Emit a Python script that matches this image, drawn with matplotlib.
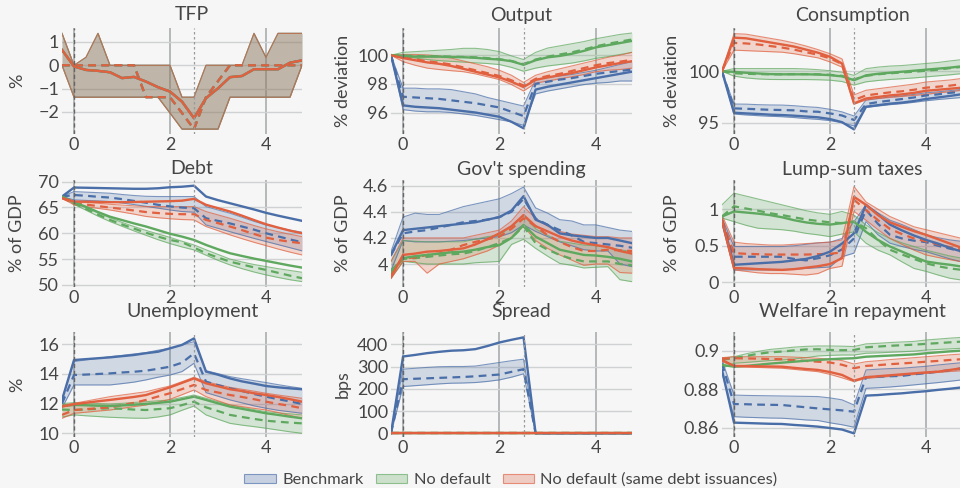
import matplotlib
matplotlib.use("Agg")
import matplotlib.pyplot as plt
from matplotlib.patches import Patch
from matplotlib.colors import to_rgba

plt.rcParams['font.family'] = ['Lato', 'DejaVu Sans']

# ---------------------------------------------------------------- data
years = [-0.25, 0.0, 0.25, 0.5, 0.75, 1.0, 1.25, 1.5, 1.75, 2.0, 2.25,
         2.5, 2.75, 3.0, 3.25, 3.5, 3.75, 4.0, 4.25, 4.5, 4.75]

series_names = ["Benchmark", "No default", "No default (same debt issuances)"]

# TFP (same shock path in all three economies)
tfp_mean = [0.66, -0.05, -0.20, -0.24, -0.30, -0.55, -0.50, -0.70, -0.94, -1.13, -1.56,
            -2.27, -1.41, -0.99, -0.51, -0.46, -0.17, -0.17, -0.17, 0.11, 0.21]
tfp_med = [0, 0, 0, 0, 0, 0, 0, -1.37, -1.37, -1.37, -2.05,
           -2.74, -1.37, -0.68, 0, 0, 0, 0, 0, 0, 0]
tfp_lo = [0, -1.37, -1.37, -1.37, -1.37, -1.37, -1.37, -1.37, -1.37, -2.05, -2.74,
          -2.74, -2.74, -2.74, -1.37, -1.37, -1.37, -1.37, -1.37, -1.37, 0]
tfp_hi = [1.37, 0, 0.34, 1.37, 0, 0, 0, 0, 0, 0, -1.37,
          -1.37, 0, 0, 0, 0, 1.37, 0.34, 1.37, 1.37, 1.37]

# Output
out_b_mean = [100, 96.5, 96.4, 96.35, 96.3, 96.2, 96.1, 96.0, 95.85, 95.7, 95.35,
              94.9, 97.6, 97.8, 97.95, 98.1, 98.25, 98.4, 98.55, 98.7, 98.85]
out_b_med = [100, 97.1, 97.05, 97.0, 96.95, 96.85, 96.75, 96.65, 96.5, 96.35, 96.05,
             95.75, 98.0, 98.15, 98.3, 98.4, 98.55, 98.7, 98.8, 98.9, 99.0]
out_b_hi = [100, 97.7, 97.7, 97.65, 97.65, 97.6, 97.45, 97.3, 97.05, 96.85, 96.65,
            96.45, 98.3, 98.45, 98.55, 98.65, 98.8, 98.95, 99.15, 99.35, 99.55]
out_b_lo = [100, 96.2, 96.1, 96.05, 96.05, 96.0, 95.9, 95.8, 95.65, 95.5, 95.35,
            95.1, 97.3, 97.5, 97.65, 97.8, 97.95, 98.05, 98.1, 98.2, 98.2]
out_n_mean = [100, 99.95, 99.9, 99.9, 99.9, 99.87, 99.86, 99.82, 99.75, 99.7, 99.58,
              99.33, 99.65, 99.85, 99.95, 100.1, 100.3, 100.55, 100.7, 100.85, 101.0]
out_n_med = [100, 99.98, 99.95, 99.93, 99.92, 99.9, 99.88, 99.85, 99.8, 99.72, 99.6,
             99.38, 99.7, 99.9, 100.05, 100.2, 100.4, 100.62, 100.8, 100.95, 101.1]
out_n_hi = [100, 100.2, 100.25, 100.3, 100.35, 100.4, 100.48, 100.48, 100.4, 100.25, 99.95,
            99.7, 100.2, 100.5, 100.65, 100.8, 100.95, 101.15, 101.3, 101.45, 101.55]
out_n_lo = [100, 99.92, 99.8, 99.7, 99.62, 99.57, 99.52, 99.47, 99.42, 99.35, 99.15,
            98.88, 99.1, 99.25, 99.35, 99.45, 99.6, 99.78, 99.9, 100.05, 100.2]
out_s_mean = [100, 99.8, 99.65, 99.5, 99.4, 99.25, 99.05, 98.85, 98.65, 98.45, 98.15,
              97.78, 98.28, 98.45, 98.6, 98.75, 98.95, 99.15, 99.3, 99.45, 99.58]
out_s_med = [100, 99.86, 99.72, 99.58, 99.48, 99.35, 99.15, 98.95, 98.75, 98.55, 98.25,
             97.88, 98.35, 98.55, 98.7, 98.9, 99.1, 99.3, 99.45, 99.55, 99.68]
out_s_hi = [100, 100.05, 100.05, 100.02, 99.95, 99.8, 99.6, 99.4, 99.2, 98.95, 98.6,
            98.1, 98.6, 98.85, 99.05, 99.25, 99.45, 99.65, 99.85, 100.0, 100.2]
out_s_lo = [100, 99.55, 99.3, 99.1, 99.0, 98.92, 98.85, 98.7, 98.5, 98.3, 97.95,
            97.5, 98.05, 98.2, 98.35, 98.5, 98.65, 98.85, 98.95, 99.0, 99.1]

# Consumption
cons_b_mean = [100, 95.97, 95.9, 95.85, 95.78, 95.74, 95.68, 95.6, 95.52, 95.35, 95.05,
               94.35, 96.55, 96.7, 96.85, 96.95, 97.1, 97.3, 97.45, 97.6, 97.77]
cons_b_med = [100, 96.39, 96.35, 96.3, 96.25, 96.23, 96.2, 96.1, 96.06, 95.9, 95.7,
              95.26, 96.81, 97.0, 97.15, 97.3, 97.45, 97.65, 97.75, 97.9, 98.0]
cons_b_hi = [100, 96.81, 96.8, 96.75, 96.72, 96.71, 96.65, 96.55, 96.48, 96.3, 96.05,
             95.65, 97.19, 97.35, 97.5, 97.6, 97.75, 97.9, 98.0, 98.12, 98.23]
cons_b_lo = [100, 95.84, 95.75, 95.68, 95.62, 95.58, 95.5, 95.4, 95.32, 95.2, 95.0,
             94.68, 96.48, 96.62, 96.75, 96.85, 96.98, 97.13, 97.25, 97.35, 97.45]
cons_n_mean = [100, 99.94, 99.85, 99.78, 99.72, 99.7, 99.7, 99.7, 99.68, 99.62, 99.5,
               99.13, 99.6, 99.75, 99.85, 99.95, 100.05, 100.15, 100.25, 100.35, 100.48]
cons_n_med = [100, 99.8, 99.75, 99.72, 99.7, 99.7, 99.72, 99.72, 99.7, 99.65, 99.55,
              99.2, 99.55, 99.7, 99.8, 99.88, 99.95, 100.05, 100.15, 100.3, 100.42]
cons_n_hi = [100, 100.26, 100.26, 100.26, 100.26, 100.26, 100.26, 100.22, 100.15, 100.05, 99.9,
             99.6, 100.25, 100.4, 100.5, 100.55, 100.65, 100.75, 100.85, 101.0, 101.13]
cons_n_lo = [100, 99.52, 99.35, 99.25, 99.2, 99.19, 99.19, 99.19, 99.17, 99.13, 99.0,
             98.65, 98.97, 99.1, 99.2, 99.27, 99.35, 99.45, 99.55, 99.65, 99.77]
cons_s_mean = [100, 103.26, 103.2, 103.0, 102.8, 102.6, 102.4, 102.1, 101.8, 101.4, 100.75,
               96.87, 97.35, 97.5, 97.65, 97.75, 97.9, 98.1, 98.2, 98.3, 98.4]
cons_s_med = [100, 102.75, 102.7, 102.6, 102.45, 102.3, 102.1, 101.85, 101.6, 101.25, 100.7,
              97.2, 97.65, 97.8, 97.95, 98.05, 98.2, 98.4, 98.5, 98.6, 98.75]
cons_s_hi = [100, 103.65, 103.6, 103.4, 103.2, 103.0, 102.75, 102.45, 102.1, 101.7, 101.2,
             97.7, 98.15, 98.3, 98.45, 98.6, 98.75, 98.95, 99.05, 99.15, 99.3]
cons_s_lo = [100, 102.05, 102.0, 101.95, 101.9, 101.85, 101.7, 101.5, 101.3, 100.9, 100.4,
             96.8, 97.2, 97.35, 97.45, 97.55, 97.65, 97.75, 97.9, 98.0, 98.15]

# Debt
debt_b_mean = [67.1, 68.84, 68.8, 68.75, 68.7, 68.65, 68.6, 68.6, 68.7, 68.9, 69.0,
               69.2, 67.1, 66.4, 65.8, 65.2, 64.6, 63.95, 63.4, 62.9, 62.4]
debt_b_med = [67.1, 67.4, 67.25, 67.05, 66.9, 66.6, 66.25, 65.9, 65.5, 65.2, 64.97,
              64.84, 62.9, 62.4, 61.9, 61.3, 60.7, 60.0, 59.4, 58.8, 58.26]
debt_b_hi = [67.1, 68.06, 67.95, 67.85, 67.74, 67.5, 67.3, 67.15, 67.1, 67.1, 67.1,
             67.1, 65.16, 64.5, 63.87, 63.1, 62.3, 61.6, 61.1, 60.6, 60.2]
debt_b_lo = [67.1, 66.45, 66.35, 66.25, 66.13, 65.85, 65.55, 65.2, 64.85, 64.5, 64.2,
             64.07, 61.6, 60.95, 60.3, 59.65, 59.0, 58.4, 57.8, 57.2, 56.6]
debt_n_mean = [67.1, 66.0, 65.1, 64.1, 63.2, 62.55, 61.9, 61.3, 60.6, 59.9, 59.35,
               58.7, 57.74, 56.9, 56.13, 55.6, 55.1, 54.65, 54.2, 53.75, 53.35]
debt_n_med = [67.1, 65.8, 64.7, 63.6, 62.58, 61.7, 60.9, 60.1, 59.35, 58.7, 58.26,
              57.23, 56.13, 55.3, 54.5, 53.95, 53.4, 52.9, 52.35, 51.8, 51.3]
debt_n_hi = [67.1, 66.0, 64.95, 63.95, 63.0, 62.1, 61.3, 60.55, 59.85, 59.2, 58.45,
             57.74, 56.8, 55.9, 55.0, 54.45, 53.95, 53.55, 53.15, 52.8, 52.45]
debt_n_lo = [67.1, 65.6, 64.45, 63.3, 62.26, 61.35, 60.45, 59.6, 58.75, 58.0, 57.35,
             56.77, 55.75, 54.75, 53.87, 53.15, 52.5, 51.94, 51.45, 51.0, 50.65]
debt_s_mean = [66.8, 66.13, 66.1, 66.05, 66.0, 66.0, 66.05, 66.1, 66.15, 66.2, 66.3,
               66.65, 65.5, 64.85, 64.2, 63.4, 62.55, 61.74, 61.1, 60.5, 60.0]
debt_s_med = [66.8, 65.8, 65.55, 65.25, 64.97, 64.7, 64.4, 64.1, 63.9, 63.75, 63.68,
              63.68, 62.58, 61.95, 61.3, 60.6, 59.85, 59.16, 58.7, 58.35, 58.06]
debt_s_hi = [66.8, 66.13, 65.95, 65.8, 65.6, 65.45, 65.3, 65.16, 65.16, 65.16, 65.16,
             65.16, 64.2, 63.55, 62.9, 62.2, 61.5, 60.84, 60.3, 59.8, 59.35]
debt_s_lo = [66.8, 65.48, 65.15, 64.8, 64.5, 64.1, 63.7, 63.25, 63.0, 62.8, 62.65,
             62.58, 61.3, 60.5, 59.68, 58.95, 58.25, 57.6, 56.95, 56.35, 55.8]

# Government spending
gov_b_mean = [4.07, 4.26, 4.27, 4.28, 4.29, 4.30, 4.31, 4.32, 4.34, 4.36, 4.41,
              4.52, 4.34, 4.30, 4.235, 4.22, 4.21, 4.20, 4.20, 4.18, 4.16]
gov_b_med = [4.07, 4.235, 4.25, 4.26, 4.28, 4.30, 4.32, 4.33, 4.34, 4.36, 4.40,
             4.50, 4.35, 4.30, 4.26, 4.22, 4.17, 4.16, 4.15, 4.14, 4.125]
gov_b_hi = [4.095, 4.36, 4.39, 4.38, 4.38, 4.41, 4.44, 4.46, 4.48, 4.50, 4.54,
            4.59, 4.43, 4.39, 4.34, 4.33, 4.30, 4.30, 4.28, 4.26, 4.25]
gov_b_lo = [3.95, 4.18, 4.17, 4.17, 4.17, 4.175, 4.18, 4.19, 4.20, 4.21, 4.24,
            4.30, 4.25, 4.21, 4.17, 4.14, 4.11, 4.10, 4.10, 4.00, 3.98]
gov_n_mean = [3.94, 4.045, 4.06, 4.07, 4.08, 4.09, 4.095, 4.11, 4.13, 4.145, 4.20,
              4.30, 4.21, 4.16, 4.11, 4.09, 4.07, 4.065, 4.055, 4.04, 4.02]
gov_n_med = [3.95, 4.04, 4.045, 4.055, 4.065, 4.075, 4.08, 4.10, 4.13, 4.16, 4.20,
             4.29, 4.16, 4.11, 4.07, 4.04, 4.02, 4.02, 4.02, 4.00, 3.99]
gov_n_hi = [4.02, 4.18, 4.175, 4.17, 4.17, 4.17, 4.17, 4.19, 4.21, 4.22, 4.29,
            4.375, 4.27, 4.22, 4.175, 4.16, 4.145, 4.14, 4.13, 4.11, 4.095]
gov_n_lo = [3.89, 4.02, 4.01, 4.00, 4.00, 4.00, 4.00, 4.01, 4.015, 4.02, 4.15,
            4.19, 4.12, 4.06, 4.005, 3.99, 3.97, 3.975, 3.98, 3.88, 3.865]
gov_s_mean = [3.90, 4.07, 4.08, 4.095, 4.10, 4.11, 4.12, 4.15, 4.19, 4.235, 4.29,
              4.375, 4.29, 4.25, 4.21, 4.18, 4.16, 4.145, 4.13, 4.10, 4.08]
gov_s_med = [3.92, 4.045, 4.05, 4.07, 4.08, 4.11, 4.145, 4.17, 4.19, 4.21, 4.27,
             4.35, 4.29, 4.22, 4.17, 4.13, 4.10, 4.10, 4.11, 4.105, 4.10]
gov_s_hi = [4.02, 4.20, 4.20, 4.20, 4.20, 4.20, 4.20, 4.22, 4.24, 4.26, 4.33,
            4.44, 4.35, 4.29, 4.25, 4.23, 4.22, 4.21, 4.21, 4.20, 4.20]
gov_s_lo = [3.89, 4.02, 4.02, 3.93, 4.00, 4.02, 4.04, 4.07, 4.10, 4.145, 4.20,
            4.29, 4.18, 4.12, 4.07, 4.03, 3.99, 4.00, 4.00, 3.935, 3.93]

# Lump-sum taxes
tax_b_mean = [0.85, 0.24, 0.25, 0.26, 0.27, 0.28, 0.30, 0.32, 0.36, 0.42, 0.53,
              0.67, 1.06, 0.93, 0.79, 0.71, 0.64, 0.58, 0.53, 0.47, 0.42]
tax_b_med = [0.85, 0.35, 0.35, 0.35, 0.35, 0.35, 0.32, 0.30, 0.33, 0.37, 0.45,
             0.60, 0.99, 0.80, 0.65, 0.60, 0.57, 0.55, 0.50, 0.46, 0.42]
tax_b_hi = [0.88, 0.49, 0.49, 0.49, 0.49, 0.49, 0.50, 0.52, 0.54, 0.55, 0.60,
            0.83, 1.06, 0.95, 0.85, 0.79, 0.72, 0.65, 0.61, 0.58, 0.56]
tax_b_lo = [0.80, 0.17, 0.17, 0.17, 0.17, 0.17, 0.18, 0.19, 0.20, 0.21, 0.35,
            0.40, 0.83, 0.65, 0.535, 0.49, 0.45, 0.42, 0.37, 0.32, 0.28]
tax_n_mean = [0.90, 0.97, 0.955, 0.94, 0.92, 0.89, 0.85, 0.82, 0.80, 0.79, 0.81,
              0.83, 0.69, 0.58, 0.49, 0.42, 0.35, 0.285, 0.26, 0.24, 0.215]
tax_n_med = [0.90, 1.04, 1.01, 0.98, 0.945, 0.92, 0.89, 0.86, 0.84, 0.82, 0.81,
             0.83, 0.74, 0.58, 0.445, 0.38, 0.32, 0.26, 0.22, 0.19, 0.17]
tax_n_hi = [1.06, 1.22, 1.18, 1.14, 1.10, 1.06, 1.02, 0.98, 0.95, 0.93, 0.97,
            0.92, 0.785, 0.68, 0.60, 0.54, 0.49, 0.44, 0.40, 0.36, 0.33]
tax_n_lo = [0.88, 0.83, 0.78, 0.74, 0.73, 0.72, 0.70, 0.67, 0.65, 0.625, 0.66,
            0.69, 0.535, 0.44, 0.375, 0.28, 0.19, 0.15, 0.10, 0.055, 0.03]
tax_s_mean = [0.85, 0.195, 0.19, 0.18, 0.175, 0.17, 0.18, 0.20, 0.22, 0.25, 0.33,
              1.17, 1.06, 0.92, 0.82, 0.76, 0.70, 0.65, 0.59, 0.53, 0.47]
tax_s_med = [0.85, 0.40, 0.39, 0.385, 0.38, 0.38, 0.38, 0.38, 0.385, 0.39, 0.41,
             1.13, 0.99, 0.85, 0.73, 0.66, 0.60, 0.56, 0.52, 0.48, 0.445]
tax_s_hi = [0.92, 0.55, 0.53, 0.52, 0.51, 0.51, 0.52, 0.53, 0.54, 0.55, 0.58,
            1.31, 1.10, 1.0, 0.90, 0.83, 0.76, 0.72, 0.68, 0.64, 0.60]
tax_s_lo = [0.80, 0.17, 0.15, 0.13, 0.12, 0.12, 0.11, 0.10, 0.12, 0.19, 0.22,
            0.97, 0.85, 0.72, 0.60, 0.52, 0.44, 0.375, 0.34, 0.31, 0.28]

# Unemployment
unemp_b_mean = [12.25, 14.94, 15.0, 15.06, 15.12, 15.2, 15.28, 15.4, 15.5, 15.73, 15.96,
                16.4, 14.16, 13.95, 13.7, 13.5, 13.35, 13.19, 13.1, 13.03, 12.97]
unemp_b_med = [12.0, 13.93, 13.96, 14.0, 14.04, 14.1, 14.15, 14.22, 14.35, 14.49, 14.76,
               15.39, 13.48, 13.25, 13.03, 12.85, 12.65, 12.47, 12.3, 12.15, 11.98]
unemp_b_hi = [12.3, 14.83, 14.95, 15.05, 15.17, 15.25, 15.35, 15.44, 15.6, 15.73, 15.95,
              16.18, 14.22, 14.02, 13.82, 13.68, 13.55, 13.42, 13.28, 13.15, 13.03]
unemp_b_lo = [11.7, 13.26, 13.26, 13.26, 13.26, 13.35, 13.45, 13.6, 13.78, 13.93, 14.16,
              14.72, 12.74, 12.5, 12.25, 12.05, 11.85, 11.69, 11.55, 11.45, 11.35]
unemp_n_mean = [11.84, 11.91, 11.89, 11.86, 11.84, 11.88, 11.93, 11.98, 12.05, 12.13, 12.3,
                12.47, 12.25, 12.02, 11.8, 11.65, 11.5, 11.35, 11.24, 11.12, 11.01]
unemp_n_med = [11.6, 11.57, 11.61, 11.65, 11.69, 11.65, 11.6, 11.57, 11.63, 11.69, 11.9,
               12.13, 11.75, 11.5, 11.24, 11.1, 10.97, 10.85, 10.78, 10.72, 10.67]
unemp_n_hi = [12.0, 12.07, 12.04, 12.01, 11.98, 12.02, 12.08, 12.13, 12.19, 12.25, 12.42,
              12.58, 12.36, 12.13, 11.91, 11.75, 11.6, 11.46, 11.38, 11.31, 11.24]
unemp_n_lo = [11.1, 11.24, 11.18, 11.13, 11.08, 11.05, 11.02, 11.01, 11.1, 11.24, 11.55,
              11.84, 11.24, 10.95, 10.67, 10.55, 10.45, 10.34, 10.22, 10.1, 10.0]
unemp_s_mean = [11.8, 11.96, 12.06, 12.16, 12.25, 12.35, 12.45, 12.58, 12.84, 13.1, 13.4,
                13.7, 13.37, 13.17, 12.97, 12.85, 12.7, 12.58, 12.45, 12.3, 12.13]
unemp_s_med = [11.24, 11.57, 11.63, 11.69, 11.75, 11.9, 12.05, 12.25, 12.48, 12.7, 12.98,
               13.26, 12.92, 12.75, 12.58, 12.45, 12.3, 12.13, 11.98, 11.85, 11.69]
unemp_s_hi = [11.9, 12.02, 12.17, 12.32, 12.47, 12.58, 12.69, 12.8, 13.0, 13.19, 13.48,
              13.78, 13.48, 13.29, 13.1, 12.97, 12.84, 12.7, 12.58, 12.47, 12.36]
unemp_s_lo = [11.01, 11.35, 11.42, 11.5, 11.57, 11.68, 11.8, 11.91, 12.1, 12.29, 12.6,
              12.92, 12.47, 12.19, 11.91, 11.8, 11.68, 11.57, 11.4, 11.2, 11.01]

# Spread (bps); the no-default economies never pay a spread
spread_b_mean = [0, 345, 352, 360, 366, 371, 373, 378, 392, 408, 420,
                 431, 0, 0, 0, 0, 0, 0, 0, 0, 0]
spread_b_med = [0, 243, 245, 247, 249, 251, 253, 256, 260, 264, 276,
                288, 0, 0, 0, 0, 0, 0, 0, 0, 0]
spread_b_hi = [0, 288, 292, 296, 299, 300, 300, 302, 310, 318, 326,
               333, 0, 0, 0, 0, 0, 0, 0, 0, 0]
spread_b_lo = [0, 210, 214, 218, 222, 225, 226, 228, 233, 240, 252,
               267, 0, 0, 0, 0, 0, 0, 0, 0, 0]
spread_zero = [0, 0, 0, 0, 0, 0, 0, 0, 0, 0, 0,
               0, 0, 0, 0, 0, 0, 0, 0, 0, 0]

# Welfare in repayment
welf_b_mean = [0.890, 0.8626, 0.8624, 0.8622, 0.862, 0.8619, 0.8614, 0.861, 0.8605, 0.8598, 0.859,
               0.857, 0.8767, 0.877, 0.8775, 0.8779, 0.8785, 0.879, 0.8797, 0.8803, 0.881]
welf_b_med = [0.8935, 0.8723, 0.8722, 0.872, 0.8719, 0.8718, 0.8712, 0.8706, 0.870, 0.8695, 0.869,
              0.8683, 0.8863, 0.8866, 0.8868, 0.887, 0.8878, 0.8885, 0.8892, 0.890, 0.891]
welf_b_hi = [0.8953, 0.877, 0.8768, 0.8767, 0.8766, 0.8765, 0.8764, 0.8763, 0.8762, 0.8755, 0.8745,
             0.8718, 0.8901, 0.8905, 0.8908, 0.891, 0.8915, 0.892, 0.8927, 0.8933, 0.8939]
welf_b_lo = [0.8885, 0.8657, 0.8654, 0.8652, 0.865, 0.8649, 0.8645, 0.864, 0.8637, 0.8625, 0.8615,
             0.8602, 0.8805, 0.8808, 0.8812, 0.8817, 0.8823, 0.8829, 0.8835, 0.8842, 0.8849]
welf_n_mean = [0.8927, 0.8918, 0.8922, 0.8928, 0.8934, 0.8939, 0.8944, 0.8949, 0.8953, 0.8957, 0.896,
               0.8962, 0.897, 0.8973, 0.8976, 0.8979, 0.8982, 0.8988, 0.8993, 0.8998, 0.9002]
welf_n_med = [0.8955, 0.8962, 0.8974, 0.8985, 0.8993, 0.8997, 0.9003, 0.9008, 0.9009, 0.9005, 0.9004,
              0.9005, 0.9019, 0.9023, 0.9027, 0.903, 0.9033, 0.9037, 0.9041, 0.9045, 0.9049]
welf_n_hi = [0.8962, 0.897, 0.8985, 0.8998, 0.9008, 0.9014, 0.902, 0.9024, 0.9026, 0.9026, 0.9025,
             0.9023, 0.9037, 0.904, 0.9044, 0.9047, 0.905, 0.9057, 0.9062, 0.9067, 0.9071]
welf_n_lo = [0.891, 0.8936, 0.894, 0.8945, 0.895, 0.8953, 0.8958, 0.8965, 0.8974, 0.8977, 0.8979,
             0.8979, 0.8988, 0.899, 0.8993, 0.8996, 0.8999, 0.9005, 0.9008, 0.9011, 0.9014]
welf_s_mean = [0.8953, 0.8922, 0.8921, 0.892, 0.8919, 0.8918, 0.8912, 0.8906, 0.8901, 0.889, 0.8875,
               0.8845, 0.8863, 0.8868, 0.8873, 0.8878, 0.8883, 0.8888, 0.8892, 0.8901, 0.891]
welf_s_med = [0.896, 0.8962, 0.8961, 0.896, 0.8958, 0.8957, 0.8952, 0.8948, 0.8944, 0.894, 0.8928,
              0.891, 0.8922, 0.8926, 0.8931, 0.8935, 0.8939, 0.8944, 0.8948, 0.8953, 0.8957]
welf_s_hi = [0.8965, 0.897, 0.897, 0.897, 0.897, 0.897, 0.8968, 0.8965, 0.8962, 0.8957, 0.895,
             0.8932, 0.8944, 0.8949, 0.8955, 0.896, 0.8965, 0.897, 0.8975, 0.898, 0.8984]
welf_s_lo = [0.8945, 0.8918, 0.8916, 0.8914, 0.8912, 0.891, 0.8904, 0.8898, 0.8892, 0.8878, 0.886,
             0.884, 0.8857, 0.8862, 0.8867, 0.8872, 0.8877, 0.8883, 0.8888, 0.8893, 0.8897]

# ---------------------------------------------------------------- style
BG = '#f6f6f6'
TXT = '#454545'
HGRID = '#cfd2d2'
VGRID = '#b4b8b8'
COLORS = ['#4a6ea8', '#5fa85f', '#e0603f']   # benchmark, no default, same issuances

W, H = 960, 488
fig = plt.figure(figsize=(W / 100, H / 100), dpi=100, facecolor=BG)

COLS = [(62, 302), (391, 632), (722, 962)]
ROWS = [(28, 134), (180, 287), (332, 437)]
TITLE_Y = [15, 169, 312]
YLABEL_DX = [-45, -48, -50]


def make_axes(r, c):
    (l, rr), (t, b) = COLS[c], ROWS[r]
    ax = fig.add_axes([l / W, 1 - b / H, (rr - l) / W, (b - t) / H])
    ax.set_facecolor(BG)
    for s in ax.spines.values():
        s.set_visible(False)
    ax.set_xlim(-0.25, 4.75)
    ax.set_xticks([0, 2, 4])
    ax.tick_params(length=0, labelsize=13, labelcolor=TXT, pad=2)
    ax.grid(axis='y', color=HGRID, lw=1.0, zorder=0)
    ax.grid(axis='x', color=VGRID, lw=1.4, zorder=0)
    ax.set_axisbelow(True)
    ax.axvline(0, color='#666666', lw=1.0, ls=(0, (3, 2)), zorder=6)
    ax.axvline(2.5, color='#9a9a9a', lw=0.9, ls=(0, (2, 2)), zorder=6)
    return ax


def draw_series(ax, mean, med, lo, hi, color):
    ax.fill_between(years, lo, hi, color=color, alpha=0.22, lw=0, zorder=2)
    ax.plot(years, lo, color=color, lw=0.8, alpha=0.7, zorder=3)
    ax.plot(years, hi, color=color, lw=0.8, alpha=0.7, zorder=3)
    ax.plot(years, med, color=color, lw=1.6, ls=(0, (3.5, 2.4)), zorder=4)
    ax.plot(years, mean, color=color, lw=1.7, zorder=5)


panels = [
    ("TFP", "%", (-2.95, 1.6), [-2, -1, 0, 1], ["\u22122", "\u22121", "0", "1"],
     [(tfp_mean, tfp_med, tfp_lo, tfp_hi)] * 3),
    ("Output", "% deviation", (94.5, 101.9), [96, 98, 100], ["96", "98", "100"],
     [(out_b_mean, out_b_med, out_b_lo, out_b_hi),
      (out_n_mean, out_n_med, out_n_lo, out_n_hi),
      (out_s_mean, out_s_med, out_s_lo, out_s_hi)]),
    ("Consumption", "% deviation", (93.9, 104.2), [95, 100], ["95", "100"],
     [(cons_b_mean, cons_b_med, cons_b_lo, cons_b_hi),
      (cons_n_mean, cons_n_med, cons_n_lo, cons_n_hi),
      (cons_s_mean, cons_s_med, cons_s_lo, cons_s_hi)]),
    ("Debt", "% of GDP", (49.6, 70.3), [50, 55, 60, 65, 70], ["50", "55", "60", "65", "70"],
     [(debt_b_mean, debt_b_med, debt_b_lo, debt_b_hi),
      (debt_n_mean, debt_n_med, debt_n_lo, debt_n_hi),
      (debt_s_mean, debt_s_med, debt_s_lo, debt_s_hi)]),
    ("Gov't spending", "% of GDP", (3.824, 4.644), [4.0, 4.2, 4.4, 4.6], ["4", "4.2", "4.4", "4.6"],
     [(gov_b_mean, gov_b_med, gov_b_lo, gov_b_hi),
      (gov_n_mean, gov_n_med, gov_n_lo, gov_n_hi),
      (gov_s_mean, gov_s_med, gov_s_lo, gov_s_hi)]),
    ("Lump-sum taxes", "% of GDP", (-0.064, 1.40), [0, 0.5, 1], ["0", "0.5", "1"],
     [(tax_b_mean, tax_b_med, tax_b_lo, tax_b_hi),
      (tax_n_mean, tax_n_med, tax_n_lo, tax_n_hi),
      (tax_s_mean, tax_s_med, tax_s_lo, tax_s_hi)]),
    ("Unemployment", "%", (9.75, 16.83), [10, 12, 14, 16], ["10", "12", "14", "16"],
     [(unemp_b_mean, unemp_b_med, unemp_b_lo, unemp_b_hi),
      (unemp_n_mean, unemp_n_med, unemp_n_lo, unemp_n_hi),
      (unemp_s_mean, unemp_s_med, unemp_s_lo, unemp_s_hi)]),
    ("Spread", "bps", (-16.6, 455), [0, 100, 200, 300, 400], ["0", "100", "200", "300", "400"],
     [(spread_b_mean, spread_b_med, spread_b_lo, spread_b_hi),
      (spread_zero, spread_zero, spread_zero, spread_zero),
      (spread_zero, spread_zero, spread_zero, spread_zero)]),
    ("Welfare in repayment", "", (0.8551, 0.9099), [0.86, 0.88, 0.90], ["0.86", "0.88", "0.9"],
     [(welf_b_mean, welf_b_med, welf_b_lo, welf_b_hi),
      (welf_n_mean, welf_n_med, welf_n_lo, welf_n_hi),
      (welf_s_mean, welf_s_med, welf_s_lo, welf_s_hi)]),
]

for i, (title, ylabel, ylim, yt, ytl, data) in enumerate(panels):
    r, c = divmod(i, 3)
    ax = make_axes(r, c)
    for (mean, med, lo, hi), col in zip(data, COLORS):
        draw_series(ax, mean, med, lo, hi, col)
    ax.set_ylim(*ylim)
    ax.set_yticks(yt)
    ax.set_yticklabels(ytl)
    (l, rr) = COLS[c]
    fig.text(((l + rr) / 2 + 10) / W, 1 - TITLE_Y[r] / H, title,
             ha='center', va='center', fontsize=14, color=TXT)
    if ylabel:
        ax.set_ylabel(ylabel, fontsize=13, color=TXT, va='center')
        ax.yaxis.set_label_coords(YLABEL_DX[c] / (rr - l), 0.5)

handles = [Patch(facecolor=to_rgba(col, 0.28), edgecolor=to_rgba(col, 0.65), lw=0.8)
           for col in COLORS]
fig.legend(handles, series_names, loc='center', bbox_to_anchor=(511 / W, 1 - 480 / H),
           ncol=3, frameon=False, fontsize=11.8, labelcolor=TXT,
           handlelength=1.9, handleheight=0.45, handletextpad=0.4, columnspacing=0.75)

fig.savefig('out.png', dpi=100, facecolor=BG)
